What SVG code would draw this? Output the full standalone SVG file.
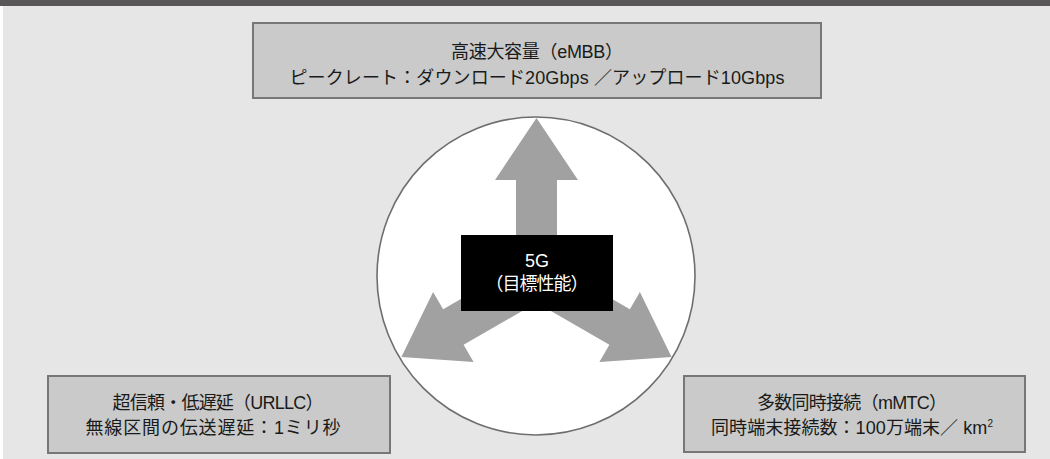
<svg xmlns="http://www.w3.org/2000/svg" width="1050" height="459" viewBox="0 0 1050 459">
<style>
.box{fill:#c9cac9;stroke:#777777;stroke-width:2}
.t{font-family:"Liberation Sans","Noto Sans CJK JP",sans-serif;font-size:18px;fill:#1a1a1a;text-anchor:middle}
.w{fill:#ffffff}
.arr{fill:#a0a1a0}
</style>
<rect x="0" y="0" width="1050" height="459" fill="#ffffff"/>
<rect x="3" y="0" width="1047" height="459" fill="#e6e6e6"/>
<rect x="0" y="0" width="1050" height="6" fill="#595757"/>
<g id="circle">
<circle cx="536" cy="276" r="159" fill="#ffffff" stroke="#6e6e6e" stroke-width="1.6"/>
</g>
<g id="connectors">
<polygon class="arr" points="516,279 516,180 495,180 536.5,118 578,180 557,180 557,279"/>
<polygon class="arr" transform="translate(536.5,279) rotate(-120)" points="-20.5,0 -20.5,-96 -40.5,-96 0,-156 40.5,-96 20.5,-96 20.5,0"/>
<polygon class="arr" transform="translate(536.5,279) rotate(120)" points="-20.5,0 -20.5,-96 -40.5,-96 0,-156 40.5,-96 20.5,-96 20.5,0"/>
</g>
<g id="center">
<rect x="461" y="235" width="152" height="76" fill="#000000"/>
<text class="t w" x="537" y="267">5G</text>
<text class="t w" x="537" y="290" textLength="103" lengthAdjust="spacing">（目標性能）</text>
</g>
<g id="embb">
<rect class="box" x="253" y="23" width="568" height="75"/>
<text class="t" x="537" y="58" textLength="172" lengthAdjust="spacing">高速大容量（eMBB）</text>
<text class="t" x="537" y="84" textLength="495" lengthAdjust="spacing">ピークレート：ダウンロード20Gbps ／アップロード10Gbps</text>
</g>
<g id="urllc">
<rect class="box" x="48" y="376" width="342" height="77"/>
<text class="t" x="218" y="409" textLength="211" lengthAdjust="spacing">超信頼・低遅延（URLLC）</text>
<text class="t" x="213" y="434" textLength="255" lengthAdjust="spacing">無線区間の伝送遅延：1ミリ秒</text>
</g>
<g id="mmtc">
<rect class="box" x="684" y="376" width="341" height="76"/>
<text class="t" x="852" y="409" textLength="190" lengthAdjust="spacing">多数同時接続（mMTC）</text>
<text class="t" x="852" y="434" textLength="282" lengthAdjust="spacing">同時端末接続数：100万端末／ km<tspan font-size="10" dy="-7">2</tspan></text>
</g>
</svg>
